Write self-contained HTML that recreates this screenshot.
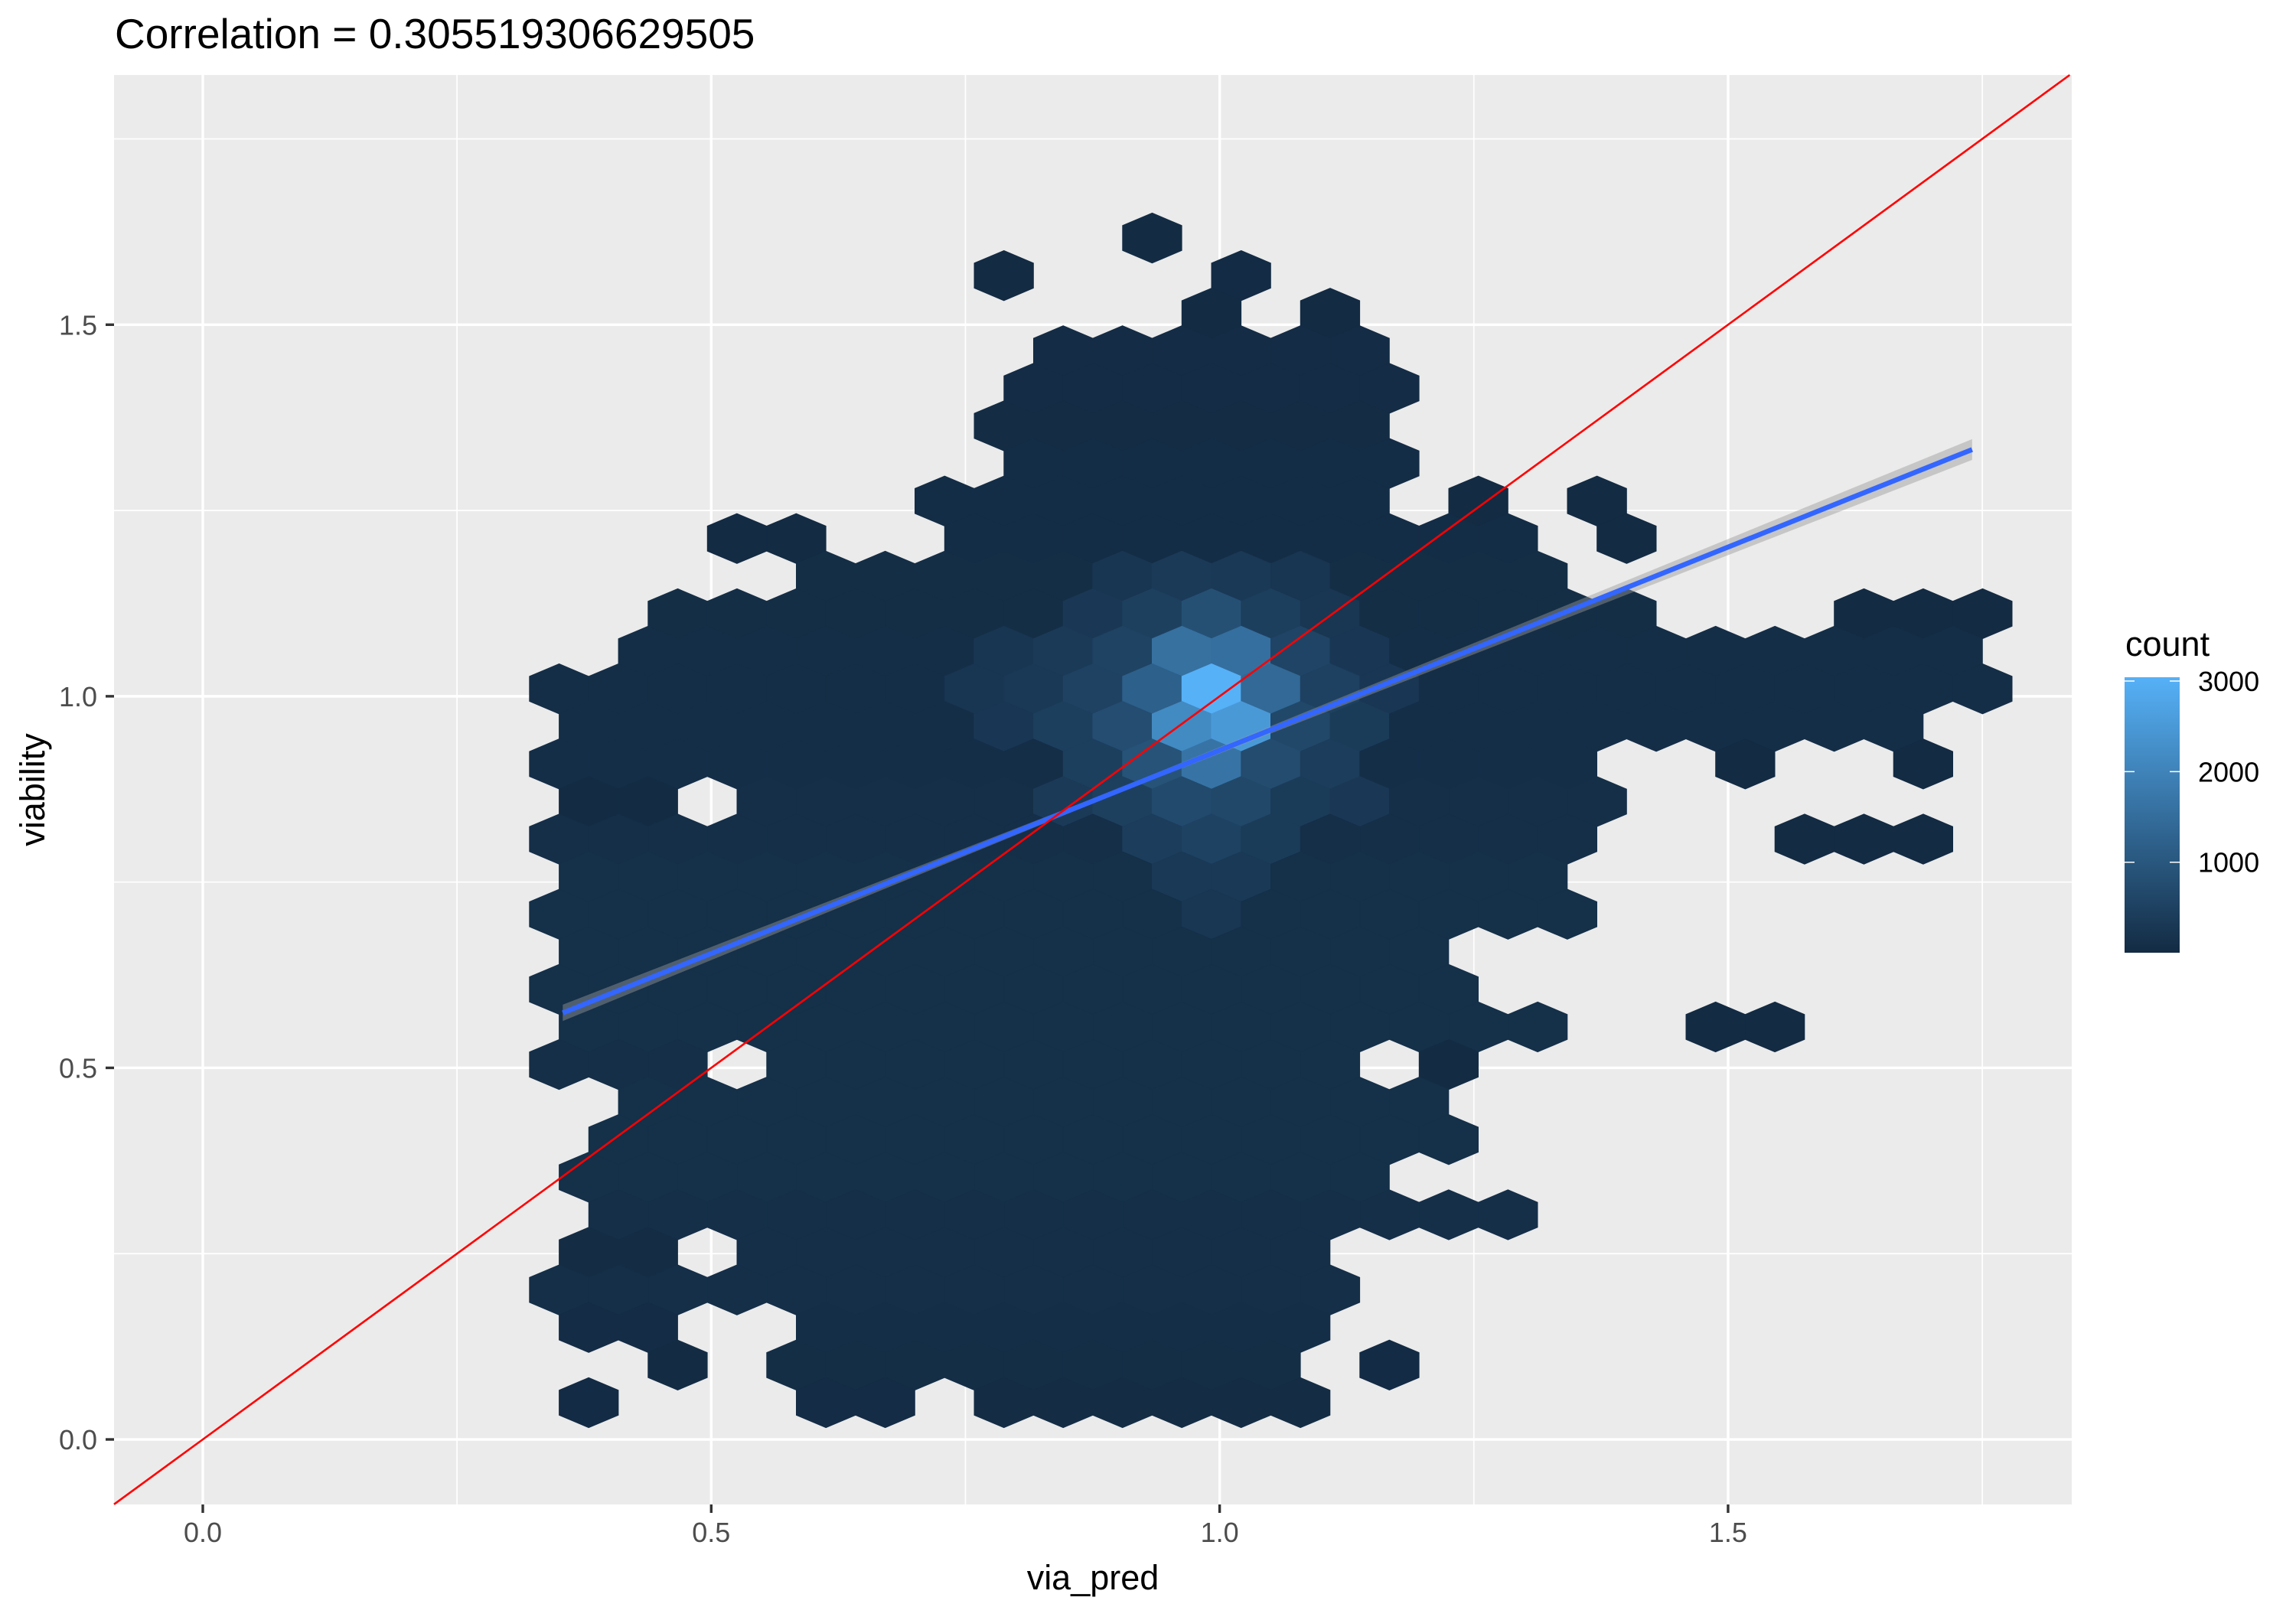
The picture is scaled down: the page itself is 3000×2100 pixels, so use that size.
<!DOCTYPE html>
<html><head><meta charset="utf-8"><style>
html,body{margin:0;padding:0;background:#fff;}
svg{display:block;font-family:"Liberation Sans",Arial,sans-serif;}
</style></head><body>
<svg id="chart" width="3000" height="2100" viewBox="0 0 3000 2100" xmlns="http://www.w3.org/2000/svg">
<rect x="0" y="0" width="3000" height="2100" fill="#fff"/>
<text x="150" y="63" font-size="55" fill="#000">Correlation = 0.305519306629505</text>
<rect x="149" y="98" width="2558" height="1868" fill="#EBEBEB"/>
<g id="grid"></g>
<g id="hexes"></g>
<g id="lines"></g>
<g id="axes"></g>
<text x="1428" y="2077" font-size="45" text-anchor="middle" fill="#000">via_pred</text>
<text transform="translate(58,1032) rotate(-90)" font-size="45" text-anchor="middle" fill="#000">viability</text>
<g>
<defs><linearGradient id="lg" x1="0" y1="0" x2="0" y2="1"><stop offset="0" stop-color="#56B1F7"/><stop offset="1" stop-color="#132B43"/></linearGradient></defs>
<text x="2777" y="857" font-size="45" fill="#000">count</text>
<rect x="2776" y="885" width="72" height="360" fill="url(#lg)"/>
<g id="legendticks"></g>
</g>
</svg>
<script>
// Axis domains
const xDomain = [-0.0873, 1.838];
const yDomain = [-0.0875, 1.836];
const xMajorTicks = [0, 0.5, 1.0, 1.5];
const xTickLabels = ["0.0", "0.5", "1.0", "1.5"];
const xMinorTicks = [0.25, 0.75, 1.25, 1.75];
const yMajorTicks = [0, 0.5, 1.0, 1.5];
const yTickLabels = ["0.0", "0.5", "1.0", "1.5"];
const yMinorTicks = [0.25, 0.75, 1.25, 1.75];
// hex grid (data units)
const hexOriginX = 0.99195, hexOriginY = 1.0100;
const hexHalfWidth = 0.029164, hexRowStep = 0.050551;
// rows: j index and runs [cStart, cEnd, count]
const rowJ = [12,11,10,9,8,7,6,5,4,3,2,1,0,-1,-2,-3,-4,-5,-6,-7,-8,-9,-10,-11,-12,-13,-14,-15,-16,-17,-18,-19];
const rowRuns = [
 [[-2,-2,15]],
 [[-7,-7,5],[1,1,10]],
 [[0,0,20],[4,4,8]],
 [[-5,5,30]],
 [[-6,6,35]],
 [[-7,5,40]],
 [[-6,6,45]],
 [[-9,5,50],[9,9,5],[13,13,4]],
 [[-16,-14,6],[-8,10,55],[14,14,5]],
 [[-13,11,60]],
 [[-18,14,60],[22,26,8]],
 [[-19,25,70]],
 [[-22,26,70]],
 [[-21,23,80]],
 [[-22,12,80],[18,18,6],[24,24,5]],
 [[-21,-19,20],[-15,13,90]],
 [[-22,12,100],[20,24,8]],
 [[-21,11,110]],
 [[-22,12,110]],
 [[-21,7,110]],
 [[-22,8,110]],
 [[-21,11,110],[17,19,6]],
 [[-22,-18,90],[-14,4,110],[8,8,20]],
 [[-19,7,110]],
 [[-20,8,110]],
 [[-21,5,110]],
 [[-20,10,100]],
 [[-21,-19,40],[-15,3,100]],
 [[-22,4,90]],
 [[-21,-19,30],[-13,3,80]],
 [[-18,-18,20],[-14,2,60],[6,6,10]],
 [[-21,-21,10],[-13,-11,30],[-7,3,40]]
];
// denser cells [j, c, count]
const denseJ = [0,-1,-1,1,1,0,0,2,2,2,-2,-2,-2,-1,-1,1,1,-3,-3,-3,-3,0,0,3,3,-4,-4,-4,-5,-5,-6,1,1,2,2,3,3,-1,-1,0,0,-2,-2,-3,-3,0,1,-1];
const denseC = [0,-1,1,-1,1,-2,2,0,-2,2,0,-2,2,-3,3,-3,3,-1,1,-3,3,-4,4,-1,1,0,-2,2,-1,1,0,-5,5,-4,4,-3,3,-5,5,-6,6,-4,4,-5,5,-8,-7,-7];
const denseCount = [3042,2150,2500,1580,1550,1200,1400,830,480,450,1650,900,750,770,650,550,570,700,650,480,380,530,500,350,330,520,400,380,330,320,260,350,280,300,260,250,230,450,380,320,280,450,400,350,300,230,250,280];
const countRange = [1, 3042];
const legendBreaks = [1000, 2000, 3000];
const legendLabels = ["1000", "2000", "3000"];
// fitted line and SE band
const fitX = [0.354, 1.740];
const fitY = [0.574, 1.332];
const bandX = [0.354, 0.9, 1.740];
const bandHalf = [0.011, 0.003, 0.014];

const PL=149, PR=2707, PT=98, PB=1966;
function X(v){return PL+(v-xDomain[0])/(xDomain[1]-xDomain[0])*(PR-PL);}
function Y(v){return PB-(v-yDomain[0])/(yDomain[1]-yDomain[0])*(PB-PT);}
const NS="http://www.w3.org/2000/svg";
function mk(tag, attrs, parent){const e=document.createElementNS(NS,tag);for(const k in attrs)e.setAttribute(k,attrs[k]);parent.appendChild(e);return e;}
const lo=[0x13,0x2B,0x43], hi=[0x56,0xB1,0xF7];
function col(n){let t=(n-countRange[0])/(countRange[1]-countRange[0]);t=Math.max(0,Math.min(1,t));
 return "rgb("+lo.map((a,i)=>Math.round(a+(hi[i]-a)*t)).join(",")+")";}

const grid=document.getElementById('grid');
xMinorTicks.forEach(v=>{const e=mk('line',{x1:X(v),x2:X(v),y1:PT,y2:PB,stroke:'#fff','stroke-width':1.7},grid);

});
yMinorTicks.forEach(v=>{const e=mk('line',{x1:PL,x2:PR,y1:Y(v),y2:Y(v),stroke:'#fff','stroke-width':1.7},grid);

});
xMajorTicks.forEach(v=>{const e=mk('line',{x1:X(v),x2:X(v),y1:PT,y2:PB,stroke:'#fff','stroke-width':3.4},grid);

});
yMajorTicks.forEach(v=>{const e=mk('line',{x1:PL,x2:PR,y1:Y(v),y2:Y(v),stroke:'#fff','stroke-width':3.4},grid);

});

// counts map
const counts={};
rowJ.forEach((j,ri)=>{rowRuns[ri].forEach(r=>{for(let c=r[0];c<=r[1];c+=2)counts[j+','+c]=r[2];});});
denseJ.forEach((j,i)=>{const k=j+','+denseC[i];if(k in counts)counts[k]=denseCount[i];});
const hexG=document.getElementById('hexes');
Object.keys(counts).forEach(k=>{const [j,c]=k.split(',').map(Number);
 const cx=hexOriginX+c*hexHalfWidth, cy=hexOriginY+j*hexRowStep;
 const R=hexRowStep*2/3, h=hexRowStep/3;
 const pts=[[cx,cy+R],[cx+hexHalfWidth,cy+h],[cx+hexHalfWidth,cy-h],[cx,cy-R],[cx-hexHalfWidth,cy-h],[cx-hexHalfWidth,cy+h]]
  .map(p=>X(p[0]).toFixed(1)+','+Y(p[1]).toFixed(1)).join(' ');
 const f=col(counts[k]);
 const e=mk('polygon',{points:pts,fill:f,stroke:f,'stroke-width':0.8},hexG);
 
 
});

const lines=document.getElementById('lines');
// SE band
let up=[],dn=[];
bandX.forEach((x,i)=>{const y=fitY[0]+(fitY[1]-fitY[0])*(x-fitX[0])/(fitX[1]-fitX[0]);up.push(X(x)+','+Y(y+bandHalf[i]));dn.unshift(X(x)+','+Y(y-bandHalf[i]));});
const band=mk('polygon',{points:up.concat(dn).join(' '),fill:'#999999','fill-opacity':0.45},lines);


const fit=mk('line',{x1:X(fitX[0]),y1:Y(fitY[0]),x2:X(fitX[1]),y2:Y(fitY[1]),stroke:'#3366FF','stroke-width':6.5},lines);


// identity line clipped to panel
const a=Math.max(xDomain[0],yDomain[0]), b=Math.min(xDomain[1],yDomain[1]);
const idl=mk('line',{x1:X(a),y1:Y(a),x2:X(b),y2:Y(b),stroke:'#FF0000','stroke-width':2.6},lines);



const axes=document.getElementById('axes');
xMajorTicks.forEach((v,i)=>{const t=mk('line',{x1:X(v),x2:X(v),y1:PB,y2:PB+11,stroke:'#333','stroke-width':3.4},axes);


const l=mk('text',{x:X(v),y:2015,'font-size':36,'text-anchor':'middle',fill:'#4D4D4D'},axes);l.textContent=xTickLabels[i];

});
yMajorTicks.forEach((v,i)=>{const t=mk('line',{x1:PL-11,x2:PL,y1:Y(v),y2:Y(v),stroke:'#333','stroke-width':3.4},axes);


const l=mk('text',{x:127,y:Y(v)+13,'font-size':36,'text-anchor':'end',fill:'#4D4D4D'},axes);l.textContent=yTickLabels[i];

});

const lt=document.getElementById('legendticks');
function LY(v){return 1245-(v-countRange[0])/(countRange[1]-countRange[0])*360;}
legendBreaks.forEach((v,i)=>{const y=LY(v);
 const t1=mk('line',{x1:2776,x2:2789,y1:y,y2:y,stroke:'#fff','stroke-width':1.5},lt);
 
 
 const t2=mk('line',{x1:2835,x2:2848,y1:y,y2:y,stroke:'#fff','stroke-width':1.5},lt);
 
 
 const l=mk('text',{x:2872,y:y+13,'font-size':36,fill:'#000'},lt);l.textContent=legendLabels[i];
 
 
});
</script>
</body></html>
